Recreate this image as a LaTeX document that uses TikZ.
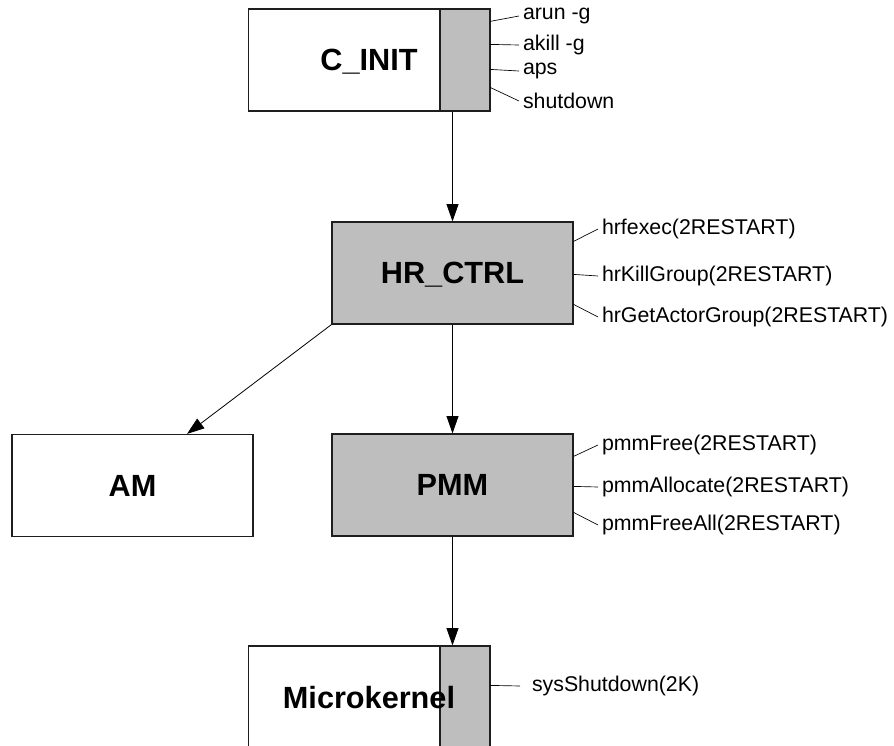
\documentclass[tikz,border=0pt]{standalone}
\usepackage{fontspec}
\setmainfont{Liberation Sans}
\usepackage{tikz}
\usetikzlibrary{
    arrows.meta,
    calc
}
\definecolor{boxgray}{RGB}{190, 190, 190}
\definecolor{boxframe}{RGB}{30, 30, 30}
\tikzstyle{module} = [
    rectangle,
    draw=boxframe,
    line width=0.9pt,
    minimum width=180.75pt,
    minimum height=76.5pt,
    inner sep=0pt,
    text depth=0pt,
    font=\fontsize{23}{28}\selectfont\bfseries
]
\tikzstyle{server} = [
    module,
    fill=boxgray
]
\tikzstyle{port} = [
    rectangle,
    draw=boxframe,
    line width=0.9pt,
    fill=boxgray,
    minimum width=37.5pt,
    minimum height=76.5pt
]
\tikzstyle{iface} = [
    anchor=west,
    inner sep=0pt,
    outer sep=3pt,
    font=\fontsize{16}{19}\selectfont
]
\tikzstyle{arrow} = [
    -{Triangle[length=13pt, width=9pt]},
    line width=0.6pt
]
\tikzstyle{tick} = [
    line width=0.5pt
]

\begin{document}
\begin{tikzpicture}[x=0.75pt, y=-0.75pt]
    \useasboundingbox (0,0) rectangle (894,746);

    % C_INIT with its command port
    \node[port] (cinitport) at (465,60) {};
    \node[module] (cinit) at (369,60) {C\_INIT};

    \node[iface] (arun) at (519,16) {arun -g};
    \node[iface] (akill) at (519,45) {akill -g};
    \node[iface] (aps) at (519,71) {aps};
    \node[iface] (shutdown) at (519,101) {shutdown};

    \draw[tick] ($(cinit.north east)+(0,13)$) -- (arun.west);
    \draw[tick] ($(cinit.north east)+(0,36)$) -- (akill.west);
    \draw[tick] ($(cinit.north east)+(0,61)$) -- (aps.west);
    \draw[tick] ($(cinit.north east)+(0,79)$) -- (shutdown.west);

    % HR_CTRL
    \node[server] (hrctrl) at (452.5,273) {HR\_CTRL};

    \node[iface] (hrfexec) at (598,229) {hrfexec(2RESTART)};
    \node[iface] (hrkill) at (598,276) {hrKillGroup(2RESTART)};
    \node[iface] (hrget) at (598,317) {hrGetActorGroup(2RESTART)};

    \draw[tick] ($(hrctrl.north east)+(0,20)$) -- (hrfexec.west);
    \draw[tick] ($(hrctrl.north east)+(0,53)$) -- (hrkill.west);
    \draw[tick] ($(hrctrl.north east)+(0,83)$) -- (hrget.west);

    % AM and PMM
    \node[module] (am) at (132.5,485.5) {AM};
    \node[server] (pmm) at (452.5,485) {PMM};

    \node[iface] (pmmfree) at (598,445) {pmmFree(2RESTART)};
    \node[iface] (pmmalloc) at (598,487) {pmmAllocate(2RESTART)};
    \node[iface] (pmmfreeall) at (598,525) {pmmFreeAll(2RESTART)};

    \draw[tick] ($(pmm.north east)+(0,23)$) -- (pmmfree.west);
    \draw[tick] ($(pmm.north east)+(0,53)$) -- (pmmalloc.west);
    \draw[tick] ($(pmm.north east)+(0,79)$) -- (pmmfreeall.west);

    % Microkernel with its port
    \node[port] (mkport) at (465,697) {};
    \node[module] (mk) at (369,697) {Microkernel};

    \node[iface, outer sep=9pt] (sysshutdown) at (520,686) {sysShutdown(2K)};
    \draw[tick] ($(mk.north east)+(0,40)$) -- (sysshutdown.west);

    % Arrows between modules
    \draw[arrow] (hrctrl.north |- cinit.south) -- (hrctrl.north);
    \draw[arrow] (hrctrl.south west) -- ($(am.north)!0.45!(am.north east)$);
    \draw[arrow] (hrctrl.south) -- (pmm.north);
    \draw[arrow] (pmm.south) -- (pmm.south |- mk.north);

\end{tikzpicture}
\end{document}
